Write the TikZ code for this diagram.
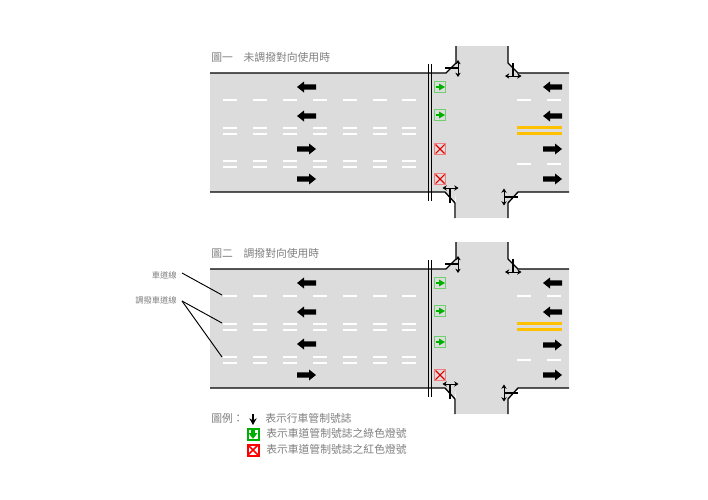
\documentclass[tikz,border=0pt]{standalone}
\usepackage{fontspec}
\setmainfont{Noto Sans CJK TC}
\newfontfamily\cjk{Noto Sans CJK TC}
\usetikzlibrary{arrows.meta}
\definecolor{road}{HTML}{DCDCDC}
\definecolor{txt}{HTML}{808080}
\definecolor{amber}{HTML}{FFC000}
\definecolor{sgreen}{HTML}{00B000}
\definecolor{sgreenbox}{HTML}{70D070}
\definecolor{sredbox}{HTML}{F08080}
\tikzset{
  curb/.style={draw=black,line width=1pt},
  lane/.style={draw=white,line width=1.5pt},
  yellowline/.style={draw=amber,line width=2.2pt},
  heavyarrow/.style={fill=black,draw=none},
  signalpole/.style={draw=black,line width=0.9pt},
  doublearrow/.style={draw=black,line width=0.7pt,{Stealth[length=3.2pt,width=4pt]}-{Stealth[length=3.2pt,width=4pt]}},
  leader/.style={draw=black,line width=0.7pt},
  title/.style={font=\cjk\fontsize{8.1pt}{9pt}\selectfont,text=txt,anchor=west,inner sep=0pt},
  small/.style={font=\cjk\fontsize{6.2pt}{7pt}\selectfont,text=txt,anchor=east,inner sep=0pt},
  legend/.style={font=\cjk\fontsize{8.1pt}{9pt}\selectfont,text=txt,anchor=west,inner sep=0pt},
}
\newcommand{\arrowL}[2]{\fill[heavyarrow] (#1+19,#2-2.6)--(#1+7,#2-2.6)--(#1+7,#2-5.5)--(#1,#2)--(#1+7,#2+5.5)--(#1+7,#2+2.6)--(#1+19,#2+2.6)--cycle;}
\newcommand{\arrowR}[2]{\fill[heavyarrow] (#1,#2-2.6)--(#1+12,#2-2.6)--(#1+12,#2-5.5)--(#1+19,#2)--(#1+12,#2+5.5)--(#1+12,#2+2.6)--(#1,#2+2.6)--cycle;}
\newcommand{\sigG}[2]{\draw[sgreenbox,line width=.8pt,fill=road] (#1-5.5,#2-5.5) rectangle (#1+5.5,#2+5.5);
  \draw[sgreen,line width=.9pt] (#1-4.5,#2)--(#1,#2);
  \fill[sgreen] (#1-1,#2-3.5)--(#1+5,#2)--(#1-1,#2+3.5)--cycle;}
\newcommand{\sigR}[2]{\draw[sredbox,line width=.8pt,fill=road] (#1-5.5,#2-5.5) rectangle (#1+5.5,#2+5.5);
  \draw[red!90!black,line width=.8pt] (#1-4.5,#2-4.5)--(#1+4.5,#2+4.5) (#1-4.5,#2+4.5)--(#1+4.5,#2-4.5);}
% #1 = vertical offset
\newcommand{\roadbase}[1]{%
  \begin{scope}[shift={(0,#1)}]
  \fill[road] (210,73) rectangle (569,192);
  \fill[road] (456,46) rectangle (508,218);
  \fill[road] (446,73)--(456,64)--(456,73)--cycle (518,73)--(508,64)--(508,73)--cycle
    (445,192)--(455,203)--(456,192)--cycle (518,192)--(508,203)--(508,192)--cycle;
  \draw[curb] (210,73)--(446,73)--(456,63)--(456,46);
  \draw[curb] (569,73)--(518,73)--(508,63)--(508,46);
  \draw[curb] (210,192)--(445,192)--(455,203)--(455,218);
  \draw[curb] (569,192)--(518,192)--(508,203)--(508,218);
  \draw[curb] (428.5,64)--(428.5,201) (431.5,64)--(431.5,201);
  \foreach \x in {223,253,283,313,343,373,402}{
    \draw[lane] (\x,100)--(\x+14,100);
    \draw[lane] (\x,128)--(\x+14,128) (\x,134)--(\x+14,134);
    \draw[lane] (\x,161)--(\x+14,161) (\x,167)--(\x+14,167);}
  \foreach \x in {517,547}{
    \draw[lane] (\x,100)--(\x+14,100);
    \draw[lane] (\x,164)--(\x+14,164);}
  \draw[yellowline] (517,127.5)--(562,127.5) (517,133.5)--(562,133.5);
  \draw[signalpole] (445,68)--(458,68);
  \draw[doublearrow] (458,60)--(458,77);
  \draw[signalpole] (513,63)--(513,76);
  \draw[doublearrow] (505,76)--(521.5,76);
  \draw[signalpole] (450,188)--(450,203);
  \draw[doublearrow] (442.5,188)--(458.5,188);
  \draw[signalpole] (504,197)--(518,197);
  \draw[doublearrow] (504,188.5)--(504,205.5);
  \end{scope}}
\begin{document}
\begin{tikzpicture}[x=0.75pt,y=-0.75pt]
\useasboundingbox (0,0) rectangle (708,500);
\fill[white] (0,0) rectangle (708,500);
\roadbase{0}
\roadbase{196}
\arrowL{297}{87}\arrowL{297}{116}\arrowR{297}{149}\arrowR{297}{179}
\arrowL{543}{87}\arrowL{543}{116}\arrowR{543}{149}\arrowR{543}{179}
\sigG{440}{87}\sigG{440}{115}\sigR{440}{149}\sigR{440}{179}
\arrowL{297}{283}\arrowL{297}{312}\arrowL{297}{344}\arrowR{297}{375}
\arrowL{543}{283}\arrowL{543}{312}\arrowR{543}{345}\arrowR{543}{375}
\sigG{440}{283}\sigG{440}{311}\sigG{440}{342}\sigR{440}{375}
\node[title] (t1) at (211,57) {圖一　未調撥對向使用時};
\node[title] (t2) at (211,253) {圖二　調撥對向使用時};
\node[small] (l1) at (177,275) {車道線};
\node[small] (l2) at (177,300) {調撥車道線};
\coordinate (l1s) at (182,273);
\coordinate (l2s) at (182,301);
\coordinate (e1) at (222,295);
\coordinate (e2) at (222,323);
\coordinate (e3) at (222,357);
\draw[leader] (l1s)--(e1);
\draw[leader] (l2s)--(e2);
\draw[leader] (l2s)--(e3);
\node[legend] (k0) at (211,418) {圖例：};
\node[legend] (k1) at (265,418) {表示行車管制號誌};
\node[legend] (k2) at (266,433.5) {表示車道管制號誌之綠色燈號};
\node[legend] (k3) at (266,449.5) {表示車道管制號誌之紅色燈號};
\coordinate (ka) at (253,414);
\coordinate (kb) at (253,425);
\draw[draw=black,line width=1.1pt,-{Stealth[length=5pt,width=5.5pt]}] (ka)--(kb);
\draw[sgreen,line width=1.5pt,fill=white] (247.5,428.5) rectangle (258.5,439.5);
\fill[sgreen] (251.2,430)--(254.8,430)--(254.8,433)--(257.5,433)--(253,438.8)--(248.5,433)--(251.2,433)--cycle;
\draw[red,line width=1.5pt,fill=white] (247.5,444.5) rectangle (258.5,455.5);
\draw[red,line width=1.3pt] (248,445)--(258,455) (248,455)--(258,445);
\end{tikzpicture}
\end{document}
